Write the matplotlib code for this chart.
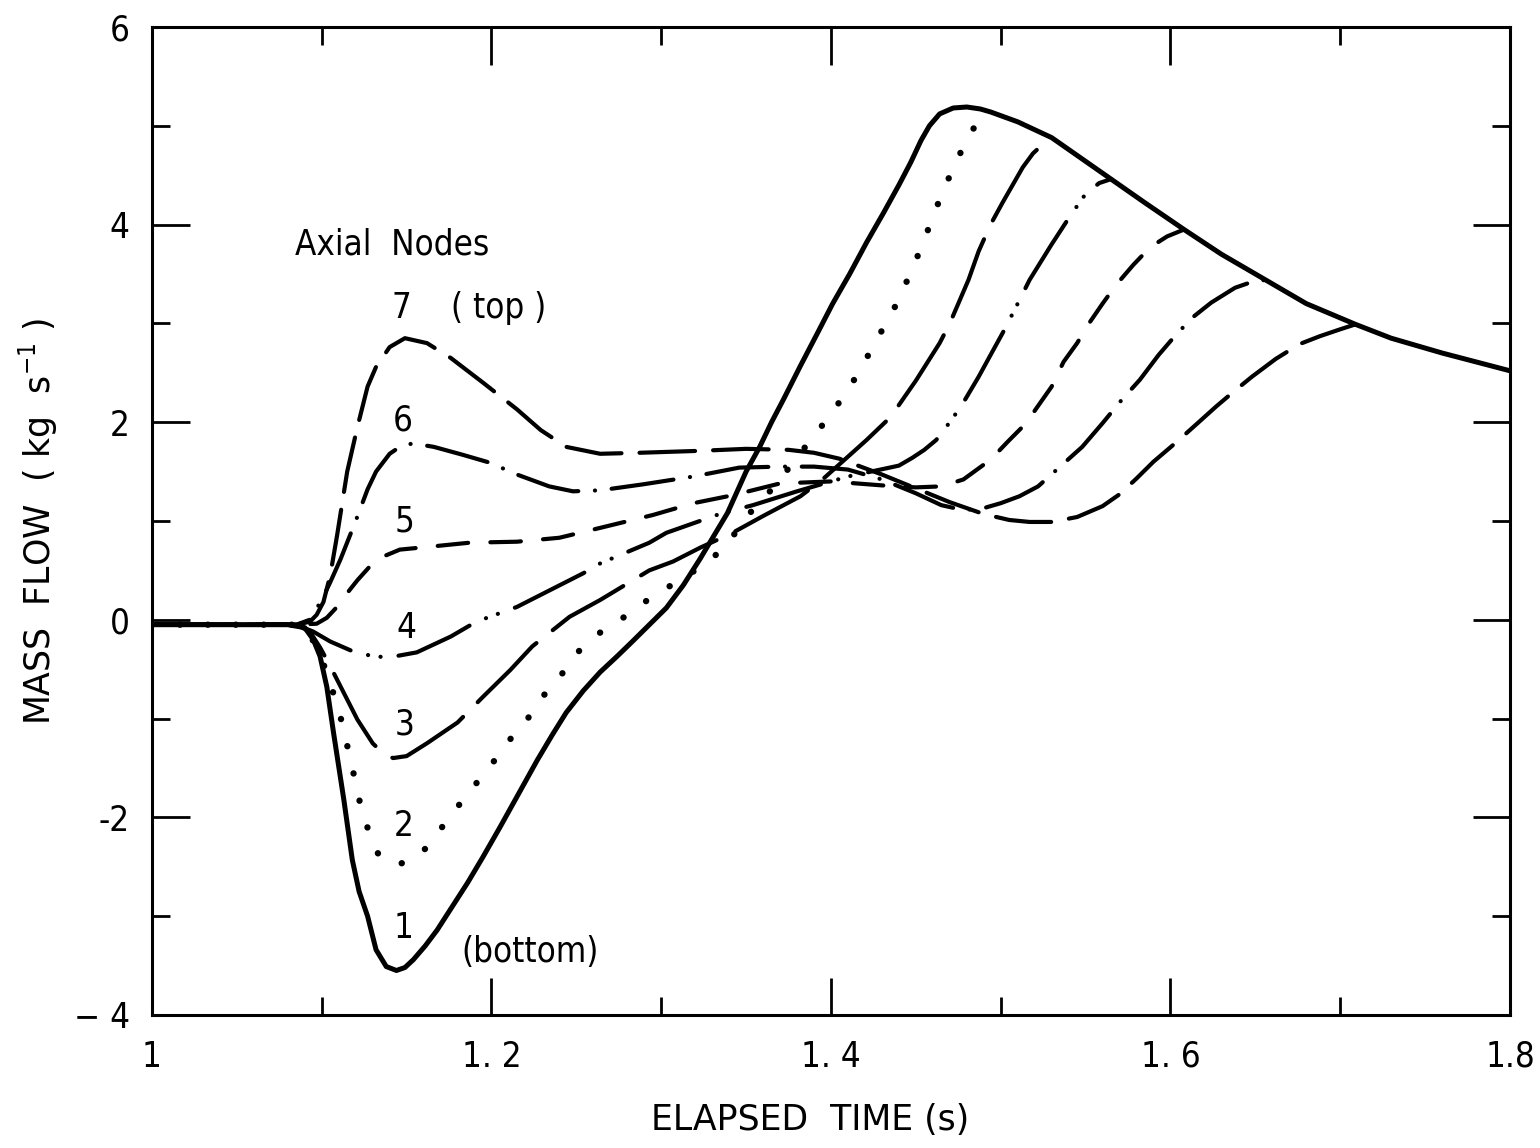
import matplotlib
matplotlib.use("Agg")
import matplotlib.pyplot as plt
from matplotlib.ticker import MultipleLocator

plt.rcParams['font.family'] = ['DejaVu Sans']
plt.rcParams['font.stretch'] = 'condensed'
plt.rcParams['lines.scale_dashes'] = False

# ---- data (time s, mass flow kg/s) ----
t1 = [1.0, 1.08, 1.09, 1.095, 1.099, 1.103, 1.107, 1.113, 1.118, 1.122, 1.127, 1.132, 1.138, 1.144,
      1.149, 1.154, 1.161, 1.168, 1.177, 1.186, 1.195, 1.205, 1.216, 1.227, 1.236, 1.244, 1.254, 1.264,
      1.274, 1.283, 1.293, 1.303, 1.313, 1.323, 1.331, 1.339, 1.35, 1.358, 1.365, 1.372, 1.382, 1.392,
      1.401, 1.411, 1.421, 1.431, 1.44, 1.447, 1.453, 1.458, 1.464, 1.472, 1.48, 1.488, 1.494, 1.502,
      1.51, 1.52, 1.53, 1.545, 1.565, 1.585, 1.608, 1.63, 1.656, 1.68, 1.709, 1.73, 1.76, 1.8]
v1 = [-0.05, -0.05, -0.08, -0.2, -0.37, -0.68, -1.15, -1.82, -2.43, -2.75, -3.0, -3.34, -3.51, -3.55,
      -3.52, -3.44, -3.3, -3.14, -2.9, -2.66, -2.4, -2.1, -1.76, -1.42, -1.16, -0.94, -0.72, -0.53,
      -0.37, -0.22, -0.05, 0.12, 0.35, 0.62, 0.85, 1.08, 1.5, 1.75, 2.0, 2.23, 2.57, 2.9,
      3.2, 3.5, 3.82, 4.12, 4.4, 4.63, 4.85, 5.0, 5.12, 5.18, 5.19, 5.17, 5.14, 5.09,
      5.04, 4.96, 4.88, 4.7, 4.46, 4.22, 3.95, 3.7, 3.44, 3.2, 2.99, 2.85, 2.7, 2.52]

t2 = [1.0, 1.085, 1.093, 1.099, 1.105, 1.111, 1.117, 1.123, 1.128, 1.134, 1.14, 1.146, 1.152, 1.158,
      1.166, 1.177, 1.187, 1.199, 1.209, 1.221, 1.23, 1.239, 1.25, 1.264, 1.282, 1.295, 1.311, 1.329,
      1.339, 1.347, 1.354, 1.36, 1.37, 1.378, 1.389, 1.4, 1.412, 1.422, 1.432, 1.44, 1.447, 1.454,
      1.46, 1.467, 1.475, 1.482, 1.49]
v2 = [-0.05, -0.05, -0.15, -0.35, -0.64, -0.98, -1.42, -1.89, -2.16, -2.4, -2.46, -2.47, -2.44, -2.38,
      -2.21, -1.96, -1.74, -1.49, -1.25, -1.01, -0.78, -0.61, -0.34, -0.13, 0.07, 0.24, 0.4, 0.6,
      0.78, 0.95, 1.12, 1.22, 1.42, 1.6, 1.84, 2.08, 2.38, 2.68, 2.99, 3.24, 3.52, 3.8,
      4.08, 4.38, 4.68, 4.93, 5.1]

t3 = [1.0, 1.085, 1.093, 1.099, 1.105, 1.113, 1.121, 1.13, 1.136, 1.142, 1.15, 1.162, 1.18, 1.195,
      1.211, 1.224, 1.246, 1.264, 1.293, 1.307, 1.323, 1.342, 1.36, 1.382, 1.395, 1.408, 1.421, 1.435,
      1.45, 1.464, 1.47, 1.476, 1.481, 1.487, 1.494, 1.501, 1.507, 1.513, 1.519, 1.529]
v3 = [-0.05, -0.05, -0.12, -0.28, -0.47, -0.74, -1.01, -1.25, -1.35, -1.4, -1.38, -1.25, -1.04, -0.78,
      -0.51, -0.27, 0.03, 0.2, 0.5, 0.59, 0.73, 0.88, 1.05, 1.25, 1.42, 1.62, 1.82, 2.05,
      2.42, 2.8, 3.0, 3.24, 3.44, 3.73, 4.0, 4.22, 4.4, 4.58, 4.72, 4.88]

t4 = [1.0, 1.085, 1.095, 1.105, 1.117, 1.13, 1.14, 1.156, 1.176, 1.191, 1.215, 1.254, 1.264, 1.293,
      1.303, 1.336, 1.354, 1.38, 1.41, 1.44, 1.448, 1.455, 1.462, 1.47, 1.477, 1.487, 1.494, 1.502,
      1.51, 1.517, 1.53, 1.541, 1.55, 1.558, 1.565]
v4 = [-0.05, -0.05, -0.12, -0.22, -0.31, -0.37, -0.38, -0.33, -0.17, -0.02, 0.13, 0.47, 0.57, 0.78,
      0.88, 1.08, 1.16, 1.3, 1.45, 1.56, 1.64, 1.72, 1.82, 2.0, 2.17, 2.46, 2.68, 2.93,
      3.2, 3.44, 3.8, 4.09, 4.31, 4.42, 4.46]

t5 = [1.0, 1.085, 1.097, 1.103, 1.109, 1.115, 1.121, 1.132, 1.146, 1.164, 1.187, 1.215, 1.24, 1.264,
      1.295, 1.319, 1.342, 1.37, 1.4, 1.43, 1.45, 1.465, 1.478, 1.486, 1.494, 1.504, 1.515, 1.521,
      1.53, 1.537, 1.545, 1.552, 1.56, 1.568, 1.578, 1.588, 1.598, 1.608]
v5 = [-0.05, -0.05, -0.04, 0.02, 0.13, 0.27, 0.4, 0.61, 0.71, 0.74, 0.78, 0.79, 0.83, 0.93,
      1.06, 1.18, 1.26, 1.38, 1.4, 1.36, 1.34, 1.35, 1.42, 1.52, 1.62, 1.8, 1.99, 2.14,
      2.36, 2.61, 2.8, 3.0, 3.2, 3.39, 3.59, 3.77, 3.88, 3.95]

t6 = [1.0, 1.085, 1.093, 1.1, 1.105, 1.111, 1.12, 1.127, 1.132, 1.14, 1.146, 1.152, 1.159, 1.166,
      1.183, 1.199, 1.215, 1.234, 1.248, 1.264, 1.289, 1.319, 1.346, 1.37, 1.39, 1.41, 1.43, 1.45,
      1.465, 1.478, 1.49, 1.5, 1.511, 1.522, 1.535, 1.548, 1.56, 1.571, 1.582, 1.593, 1.603, 1.613,
      1.624, 1.638, 1.648, 1.656]
v6 = [-0.05, -0.05, 0.0, 0.2, 0.38, 0.61, 1.0, 1.32, 1.5, 1.68, 1.75, 1.78, 1.77, 1.75,
      1.67, 1.59, 1.47, 1.35, 1.3, 1.31, 1.37, 1.45, 1.54, 1.55, 1.55, 1.52, 1.42, 1.28,
      1.16, 1.11, 1.13, 1.18, 1.25, 1.35, 1.55, 1.75, 1.99, 2.22, 2.43, 2.68, 2.88, 3.06,
      3.21, 3.36, 3.42, 3.44]

t7 = [1.0, 1.085, 1.093, 1.097, 1.101, 1.105, 1.109, 1.115, 1.121, 1.127, 1.132, 1.14, 1.149, 1.162,
      1.176, 1.195, 1.215, 1.229, 1.244, 1.264, 1.287, 1.323, 1.35, 1.375, 1.39, 1.405, 1.43, 1.45,
      1.47, 1.49, 1.505, 1.517, 1.53, 1.545, 1.56, 1.57, 1.58, 1.59, 1.603, 1.616, 1.627, 1.638,
      1.648, 1.662, 1.676, 1.688, 1.7, 1.709]
v7 = [-0.05, -0.05, -0.02, 0.05, 0.18, 0.45, 0.85, 1.5, 1.95, 2.36, 2.56, 2.76, 2.85, 2.8,
      2.65, 2.4, 2.13, 1.92, 1.75, 1.68, 1.69, 1.71, 1.73, 1.72, 1.69, 1.63, 1.47, 1.33,
      1.19, 1.07, 1.01, 0.99, 0.99, 1.04, 1.15, 1.27, 1.43, 1.6, 1.79, 1.99, 2.16, 2.32,
      2.46, 2.64, 2.79, 2.87, 2.94, 2.99]

x_ticks = [1.0, 1.2, 1.4, 1.6, 1.8]
x_ticklabels = ["1", "1. 2", "1. 4", "1. 6", "1.8"]
y_ticks = [-4, -2, 0, 2, 4, 6]
y_ticklabels = ["\u2212 4", "-2", "0", "2", "4", "6"]

node_labels = ["1", "2", "3", "4", "5", "6", "7"]
node_label_x = [1.148, 1.148, 1.149, 1.150, 1.149, 1.148, 1.147]
node_label_y = [-3.12, -2.09, -1.06, -0.08, 0.99, 2.02, 3.16]

# ---- figure ----
fig = plt.figure(figsize=(15.4, 11.48), dpi=100)
ax = fig.add_axes([0.0987, 0.1159, 0.8818, 0.8606])

col = 'black'
ax.plot(t1, v1, color=col, lw=3.6, solid_capstyle='round', solid_joinstyle='round')
ax.plot(t2, v2, color=col, lw=4.6, linestyle=(0, (0.1, 20)), dash_capstyle='round')
ax.plot(t3, v3, color=col, lw=3.0, linestyle=(0, (60, 15)), dash_capstyle='round')
ax.plot(t4, v4, color=col, lw=3.0, linestyle=(0, (56, 13, 0.1, 9, 0.1, 13)), dash_capstyle='round')
ax.plot(t5, v5, color=col, lw=3.0, linestyle=(0, (22, 16)), dash_capstyle='round')
ax.plot(t6, v6, color=col, lw=3.0, linestyle=(0, (45, 12, 0.1, 12)), dash_capstyle='round')
ax.plot(t7, v7, color=col, lw=3.0, linestyle=(0, (40, 13)), dash_capstyle='round')

ax.set_xlim(1.0, 1.8)
ax.set_ylim(-4, 6)
ax.set_xticks(x_ticks)
ax.set_xticklabels(x_ticklabels)
ax.set_yticks(y_ticks)
ax.set_yticklabels(y_ticklabels)
ax.xaxis.set_minor_locator(MultipleLocator(0.1))
ax.yaxis.set_minor_locator(MultipleLocator(1))
ax.tick_params(which='both', direction='in', top=True, right=True, width=2, colors='black')
ax.tick_params(which='major', length=27, labelsize=25)
ax.tick_params(which='minor', length=13)
ax.tick_params(axis='x', which='major', pad=18)
ax.tick_params(axis='y', which='major', pad=16)
for s in ax.spines.values():
    s.set_linewidth(2.2)

fs = 25
ax.text(1.084, 3.8, "Axial  Nodes", fontsize=fs, ha='left', va='center')
for lab, x, y in zip(node_labels, node_label_x, node_label_y):
    ax.text(x, y, lab, fontsize=fs, ha='center', va='center')
ax.text(1.176, 3.16, "( top )", fontsize=fs, ha='left', va='center')
ax.text(1.182, -3.36, "(bottom)", fontsize=fs, ha='left', va='center')

ax.set_xlabel("ELAPSED  TIME (s)", fontsize=25, fontstretch='normal')
ax.set_ylabel("MASS  FLOW  ( kg  s$^{-1}$ )", fontsize=25, fontstretch='normal')
ax.xaxis.set_label_coords(0.485, -0.089)
ax.yaxis.set_label_coords(-0.068, 0.5)

fig.savefig("out.png", dpi=100)
